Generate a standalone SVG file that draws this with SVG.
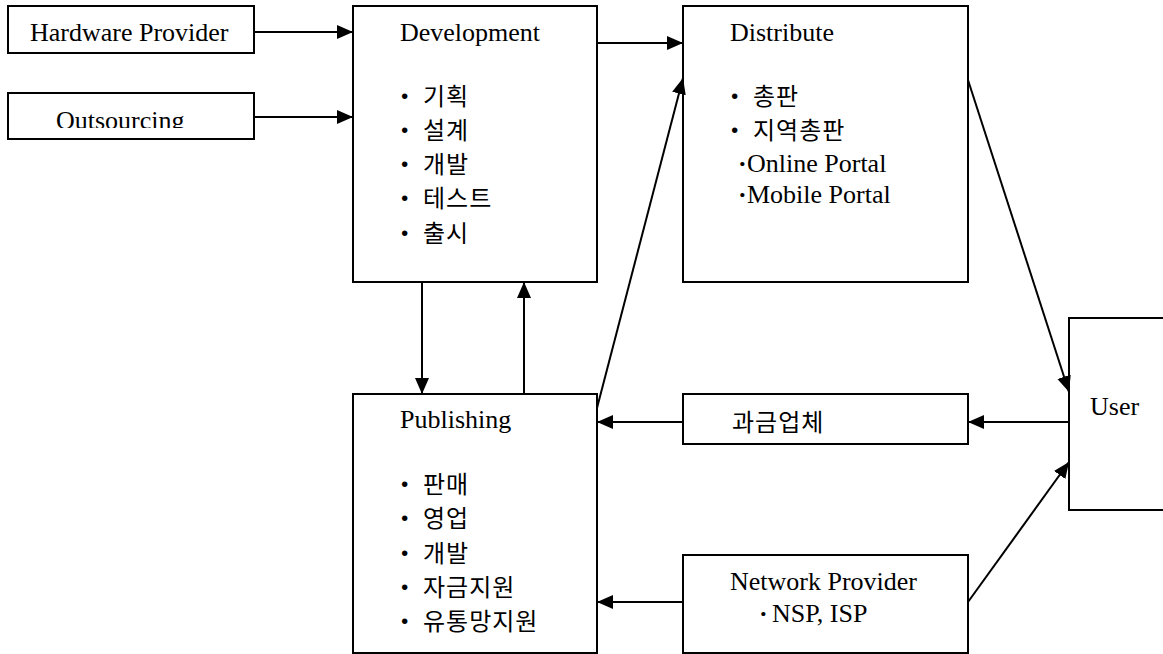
<svg xmlns="http://www.w3.org/2000/svg" width="1163" height="654" viewBox="0 0 1163 654">
<style>
.box{fill:#fff;stroke:#000;stroke-width:2}
.lat{font-family:"Liberation Serif","Times New Roman",serif;font-size:26px;fill:#000}
.kor{font-family:"Noto Sans CJK KR","Liberation Serif",sans-serif;font-size:24px;fill:#000;letter-spacing:1px}
.dot{font-family:"Liberation Serif",serif;font-size:34px;font-weight:bold;fill:#000;letter-spacing:0}
.dot2{font-weight:bold}
.con{stroke:#000;stroke-width:2;fill:none;marker-end:url(#ah)}
</style>
<defs>
<marker id="ah" markerWidth="18" markerHeight="16" refX="16" refY="8" orient="auto" markerUnits="userSpaceOnUse"><path d="M0,1 L16,8 L0,15 z" fill="#000"/></marker>
<clipPath id="clipOut"><rect x="8" y="93" width="246" height="35"/></clipPath>
</defs>
<rect width="1163" height="654" fill="#fff"/>
<g id="hardware">
<rect class="box" x="8" y="6" width="246" height="47"/>
<text class="lat" x="30" y="41">Hardware Provider</text>
</g>
<g id="outsourcing">
<rect class="box" x="8" y="93" width="246" height="46"/>
<text class="lat" x="56" y="129" clip-path="url(#clipOut)">Outsourcing</text>
</g>
<g id="development">
<rect class="box" x="353" y="6" width="244" height="276"/>
<text class="lat" x="400" y="41">Development</text>
<text class="kor" y="105"><tspan class="dot" x="399" dy="2">·</tspan><tspan x="423" dy="-2">기획</tspan></text>
<text class="kor" y="139"><tspan class="dot" x="399" dy="2">·</tspan><tspan x="423" dy="-2">설계</tspan></text>
<text class="kor" y="173"><tspan class="dot" x="399" dy="2">·</tspan><tspan x="423" dy="-2">개발</tspan></text>
<text class="kor" y="207"><tspan class="dot" x="399" dy="2">·</tspan><tspan x="423" dy="-2">테스트</tspan></text>
<text class="kor" y="242"><tspan class="dot" x="399" dy="2">·</tspan><tspan x="423" dy="-2">출시</tspan></text>
</g>
<g id="distribute">
<rect class="box" x="683" y="6" width="285" height="276"/>
<text class="lat" x="730" y="41">Distribute</text>
<text class="kor" y="105"><tspan class="dot" x="729" dy="2">·</tspan><tspan x="753" dy="-2">총판</tspan></text>
<text class="kor" y="139"><tspan class="dot" x="729" dy="2">·</tspan><tspan x="753" dy="-2">지역총판</tspan></text>
<text class="lat" y="172"><tspan class="dot2" x="738">·</tspan><tspan x="747">Online Portal</tspan></text>
<text class="lat" y="203"><tspan class="dot2" x="738">·</tspan><tspan x="747">Mobile Portal</tspan></text>
</g>
<g id="publishing">
<rect class="box" x="353" y="394" width="244" height="259"/>
<text class="lat" x="400" y="428">Publishing</text>
<text class="kor" y="493"><tspan class="dot" x="399" dy="2">·</tspan><tspan x="423" dy="-2">판매</tspan></text>
<text class="kor" y="527"><tspan class="dot" x="399" dy="2">·</tspan><tspan x="423" dy="-2">영업</tspan></text>
<text class="kor" y="562"><tspan class="dot" x="399" dy="2">·</tspan><tspan x="423" dy="-2">개발</tspan></text>
<text class="kor" y="596"><tspan class="dot" x="399" dy="2">·</tspan><tspan x="423" dy="-2">자금지원</tspan></text>
<text class="kor" y="630"><tspan class="dot" x="399" dy="2">·</tspan><tspan x="423" dy="-2">유통망지원</tspan></text>
</g>
<g id="billing">
<rect class="box" x="683" y="394" width="285" height="50"/>
<text class="kor" x="732" y="431">과금업체</text>
</g>
<g id="network">
<rect class="box" x="683" y="555" width="285" height="98"/>
<text class="lat" x="730" y="590">Network Provider</text>
<text class="lat" y="622"><tspan class="dot2" x="759">·</tspan><tspan x="772">NSP, ISP</tspan></text>
</g>
<g id="user">
<rect class="box" x="1069" y="318" width="110" height="192"/>
<text class="lat" x="1090" y="415">User</text>
</g>
<g id="connectors">
<line class="con" x1="254" y1="32" x2="353" y2="32"/>
<line class="con" x1="254" y1="117" x2="353" y2="117"/>
<line class="con" x1="597" y1="43" x2="683" y2="43"/>
<line class="con" x1="422" y1="282" x2="422" y2="394"/>
<line class="con" x1="524" y1="394" x2="524" y2="282"/>
<line class="con" x1="597" y1="408" x2="683" y2="78"/>
<line class="con" x1="968" y1="80" x2="1069" y2="392"/>
<line class="con" x1="1069" y1="422" x2="968" y2="422"/>
<line class="con" x1="683" y1="422" x2="597" y2="422"/>
<line class="con" x1="683" y1="602" x2="597" y2="602"/>
<line class="con" x1="968" y1="602" x2="1069" y2="462"/>
</g>
</svg>
